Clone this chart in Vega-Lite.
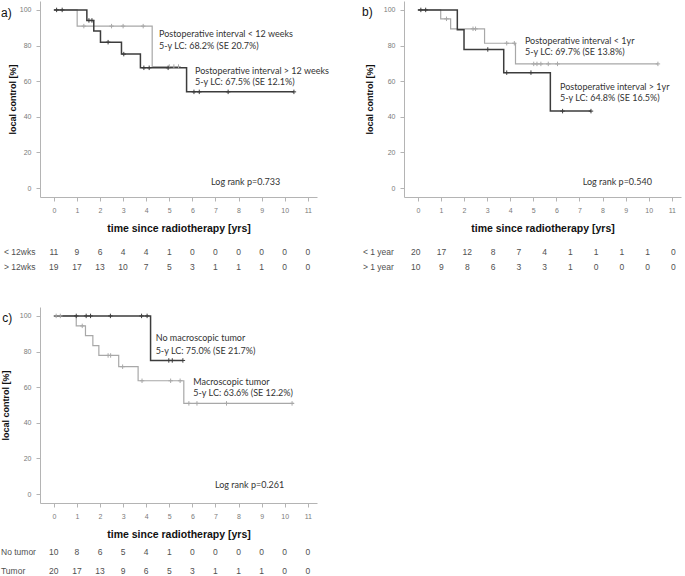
{
  "$schema": "https://vega.github.io/schema/vega-lite/v6.json",
  "background": "white",
  "padding": {"left": 0, "top": 1, "right": 2, "bottom": 2},
  "datasets": {
    "kmA": [
      {"g": "lt", "k": "step", "t": 0, "s": 100},
      {"g": "lt", "k": "step", "t": 1.01, "s": 90.9},
      {"g": "lt", "k": "step", "t": 4.26, "s": 68.2},
      {"g": "lt", "k": "step", "t": 5.4, "s": 68.2},
      {"g": "lt", "k": "cens", "t": 1.3, "s": 90.9},
      {"g": "lt", "k": "cens", "t": 2.5, "s": 90.9},
      {"g": "lt", "k": "cens", "t": 3.0, "s": 90.9},
      {"g": "lt", "k": "cens", "t": 3.87, "s": 90.9},
      {"g": "lt", "k": "cens", "t": 5.0, "s": 68.2},
      {"g": "lt", "k": "cens", "t": 5.2, "s": 68.2},
      {"g": "lt", "k": "cens", "t": 5.4, "s": 68.2},
      {"g": "gt", "k": "step", "t": 0, "s": 100},
      {"g": "gt", "k": "step", "t": 1.43, "s": 94.1},
      {"g": "gt", "k": "step", "t": 1.73, "s": 88.2},
      {"g": "gt", "k": "step", "t": 2.02, "s": 81.9},
      {"g": "gt", "k": "step", "t": 2.93, "s": 75.2},
      {"g": "gt", "k": "step", "t": 3.75, "s": 67.5},
      {"g": "gt", "k": "step", "t": 5.75, "s": 54.0},
      {"g": "gt", "k": "step", "t": 10.4, "s": 54.0},
      {"g": "gt", "k": "cens", "t": 0.12, "s": 100},
      {"g": "gt", "k": "cens", "t": 0.36, "s": 100},
      {"g": "gt", "k": "cens", "t": 1.52, "s": 94.1},
      {"g": "gt", "k": "cens", "t": 1.65, "s": 94.1},
      {"g": "gt", "k": "cens", "t": 2.35, "s": 81.9},
      {"g": "gt", "k": "cens", "t": 3.03, "s": 75.2},
      {"g": "gt", "k": "cens", "t": 3.9, "s": 67.5},
      {"g": "gt", "k": "cens", "t": 4.13, "s": 67.5},
      {"g": "gt", "k": "cens", "t": 4.95, "s": 67.5},
      {"g": "gt", "k": "cens", "t": 6.07, "s": 54.0},
      {"g": "gt", "k": "cens", "t": 6.3, "s": 54.0},
      {"g": "gt", "k": "cens", "t": 7.55, "s": 54.0},
      {"g": "gt", "k": "cens", "t": 10.4, "s": 54.0}
    ],
    "riskA": [
      {"g": "lt", "t": 0, "n": 11}, {"g": "lt", "t": 1, "n": 9}, {"g": "lt", "t": 2, "n": 6}, {"g": "lt", "t": 3, "n": 4},
      {"g": "lt", "t": 4, "n": 4}, {"g": "lt", "t": 5, "n": 1}, {"g": "lt", "t": 6, "n": 0}, {"g": "lt", "t": 7, "n": 0},
      {"g": "lt", "t": 8, "n": 0}, {"g": "lt", "t": 9, "n": 0}, {"g": "lt", "t": 10, "n": 0}, {"g": "lt", "t": 11, "n": 0},
      {"g": "gt", "t": 0, "n": 19}, {"g": "gt", "t": 1, "n": 17}, {"g": "gt", "t": 2, "n": 13}, {"g": "gt", "t": 3, "n": 10},
      {"g": "gt", "t": 4, "n": 7}, {"g": "gt", "t": 5, "n": 5}, {"g": "gt", "t": 6, "n": 3}, {"g": "gt", "t": 7, "n": 1},
      {"g": "gt", "t": 8, "n": 1}, {"g": "gt", "t": 9, "n": 1}, {"g": "gt", "t": 10, "n": 0}, {"g": "gt", "t": 11, "n": 0}
    ],
    "kmB": [
      {"g": "lt", "k": "step", "t": 0, "s": 100},
      {"g": "lt", "k": "step", "t": 0.99, "s": 95.0},
      {"g": "lt", "k": "step", "t": 1.42, "s": 89.4},
      {"g": "lt", "k": "step", "t": 2.89, "s": 81.3},
      {"g": "lt", "k": "step", "t": 4.23, "s": 69.7},
      {"g": "lt", "k": "step", "t": 10.4, "s": 69.7},
      {"g": "lt", "k": "cens", "t": 1.24, "s": 95.0},
      {"g": "lt", "k": "cens", "t": 2.39, "s": 89.4},
      {"g": "lt", "k": "cens", "t": 2.5, "s": 89.4},
      {"g": "lt", "k": "cens", "t": 3.85, "s": 81.3},
      {"g": "lt", "k": "cens", "t": 4.18, "s": 81.3},
      {"g": "lt", "k": "cens", "t": 5.02, "s": 69.7},
      {"g": "lt", "k": "cens", "t": 5.16, "s": 69.7},
      {"g": "lt", "k": "cens", "t": 5.33, "s": 69.7},
      {"g": "lt", "k": "cens", "t": 5.65, "s": 69.7},
      {"g": "lt", "k": "cens", "t": 6.05, "s": 69.7},
      {"g": "lt", "k": "cens", "t": 10.4, "s": 69.7},
      {"g": "gt", "k": "step", "t": 0, "s": 100},
      {"g": "gt", "k": "step", "t": 1.71, "s": 88.9},
      {"g": "gt", "k": "step", "t": 2.0, "s": 77.8},
      {"g": "gt", "k": "step", "t": 3.72, "s": 64.8},
      {"g": "gt", "k": "step", "t": 5.74, "s": 43.2},
      {"g": "gt", "k": "step", "t": 7.5, "s": 43.2},
      {"g": "gt", "k": "cens", "t": 0.13, "s": 100},
      {"g": "gt", "k": "cens", "t": 0.34, "s": 100},
      {"g": "gt", "k": "cens", "t": 3.03, "s": 77.8},
      {"g": "gt", "k": "cens", "t": 3.85, "s": 64.8},
      {"g": "gt", "k": "cens", "t": 4.9, "s": 64.8},
      {"g": "gt", "k": "cens", "t": 6.27, "s": 43.2},
      {"g": "gt", "k": "cens", "t": 7.5, "s": 43.2}
    ],
    "riskB": [
      {"g": "lt", "t": 0, "n": 20}, {"g": "lt", "t": 1, "n": 17}, {"g": "lt", "t": 2, "n": 12}, {"g": "lt", "t": 3, "n": 8},
      {"g": "lt", "t": 4, "n": 7}, {"g": "lt", "t": 5, "n": 4}, {"g": "lt", "t": 6, "n": 1}, {"g": "lt", "t": 7, "n": 1},
      {"g": "lt", "t": 8, "n": 1}, {"g": "lt", "t": 9, "n": 1}, {"g": "lt", "t": 10, "n": 0},
      {"g": "gt", "t": 0, "n": 10}, {"g": "gt", "t": 1, "n": 9}, {"g": "gt", "t": 2, "n": 8}, {"g": "gt", "t": 3, "n": 6},
      {"g": "gt", "t": 4, "n": 3}, {"g": "gt", "t": 5, "n": 3}, {"g": "gt", "t": 6, "n": 1}, {"g": "gt", "t": 7, "n": 0},
      {"g": "gt", "t": 8, "n": 0}, {"g": "gt", "t": 9, "n": 0}, {"g": "gt", "t": 10, "n": 0}
    ],
    "kmC": [
      {"g": "tu", "k": "step", "t": 0, "s": 100},
      {"g": "tu", "k": "step", "t": 0.97, "s": 94.4},
      {"g": "tu", "k": "step", "t": 1.37, "s": 88.9},
      {"g": "tu", "k": "step", "t": 1.69, "s": 83.3},
      {"g": "tu", "k": "step", "t": 1.95, "s": 77.8},
      {"g": "tu", "k": "step", "t": 2.81, "s": 71.5},
      {"g": "tu", "k": "step", "t": 3.65, "s": 63.6},
      {"g": "tu", "k": "step", "t": 5.63, "s": 50.9},
      {"g": "tu", "k": "step", "t": 10.4, "s": 50.9},
      {"g": "tu", "k": "cens", "t": 0.1, "s": 100},
      {"g": "tu", "k": "cens", "t": 0.28, "s": 100},
      {"g": "tu", "k": "cens", "t": 1.23, "s": 94.4},
      {"g": "tu", "k": "cens", "t": 2.35, "s": 77.8},
      {"g": "tu", "k": "cens", "t": 2.46, "s": 77.8},
      {"g": "tu", "k": "cens", "t": 2.98, "s": 71.5},
      {"g": "tu", "k": "cens", "t": 3.82, "s": 63.6},
      {"g": "tu", "k": "cens", "t": 5.06, "s": 63.6},
      {"g": "tu", "k": "cens", "t": 5.47, "s": 63.6},
      {"g": "tu", "k": "cens", "t": 5.85, "s": 50.9},
      {"g": "tu", "k": "cens", "t": 6.2, "s": 50.9},
      {"g": "tu", "k": "cens", "t": 7.48, "s": 50.9},
      {"g": "tu", "k": "cens", "t": 10.32, "s": 50.9},
      {"g": "no", "k": "step", "t": 0, "s": 100},
      {"g": "no", "k": "step", "t": 4.19, "s": 75.0},
      {"g": "no", "k": "step", "t": 5.59, "s": 75.0},
      {"g": "no", "k": "cens", "t": 0.97, "s": 100},
      {"g": "no", "k": "cens", "t": 1.4, "s": 100},
      {"g": "no", "k": "cens", "t": 1.59, "s": 100},
      {"g": "no", "k": "cens", "t": 2.45, "s": 100},
      {"g": "no", "k": "cens", "t": 3.8, "s": 100},
      {"g": "no", "k": "cens", "t": 4.04, "s": 100},
      {"g": "no", "k": "cens", "t": 4.98, "s": 75.0},
      {"g": "no", "k": "cens", "t": 5.13, "s": 75.0},
      {"g": "no", "k": "cens", "t": 5.59, "s": 75.0}
    ],
    "riskC": [
      {"g": "no", "t": 0, "n": 10}, {"g": "no", "t": 1, "n": 8}, {"g": "no", "t": 2, "n": 6}, {"g": "no", "t": 3, "n": 5},
      {"g": "no", "t": 4, "n": 4}, {"g": "no", "t": 5, "n": 1}, {"g": "no", "t": 6, "n": 0}, {"g": "no", "t": 7, "n": 0},
      {"g": "no", "t": 8, "n": 0}, {"g": "no", "t": 9, "n": 0}, {"g": "no", "t": 10, "n": 0}, {"g": "no", "t": 11, "n": 0},
      {"g": "tu", "t": 0, "n": 20}, {"g": "tu", "t": 1, "n": 17}, {"g": "tu", "t": 2, "n": 13}, {"g": "tu", "t": 3, "n": 9},
      {"g": "tu", "t": 4, "n": 6}, {"g": "tu", "t": 5, "n": 5}, {"g": "tu", "t": 6, "n": 3}, {"g": "tu", "t": 7, "n": 1},
      {"g": "tu", "t": 8, "n": 1}, {"g": "tu", "t": 9, "n": 1}, {"g": "tu", "t": 10, "n": 0}, {"g": "tu", "t": 11, "n": 0}
    ]
  },
  "columns": 2,
  "spacing": {"row": 110, "column": 87},
  "bounds": "flush",
  "concat": [
    {
      "width": 277, "height": 196,
      "layer": [
        {"data": {"name": "kmA"}, "transform": [{"filter": "datum.g === 'lt' && datum.k === 'step'"}], "mark": {"type": "line", "interpolate": "step-after", "color": "#a8a8a8", "strokeWidth": 1.2},
         "encoding": {"x": {"field": "t", "type": "quantitative", "title": "time since radiotherapy [yrs]", "scale": {"domain": [-0.6, 11.4], "nice": false, "zero": false}},
                      "y": {"field": "s", "type": "quantitative", "title": "local control [%]", "scale": {"domain": [-5, 105], "nice": false, "zero": false}, "axis": {"titlePadding": 2}}}},
        {"data": {"name": "kmA"}, "transform": [{"filter": "datum.g === 'gt' && datum.k === 'step'"}], "mark": {"type": "line", "interpolate": "step-after", "color": "#3c3c3c", "strokeWidth": 1.5},
         "encoding": {"x": {"field": "t", "type": "quantitative", "title": "time since radiotherapy [yrs]"}, "y": {"field": "s", "type": "quantitative", "title": "local control [%]"}}},
        {"data": {"name": "kmA"}, "transform": [{"filter": "datum.g === 'lt' && datum.k === 'cens'"}], "mark": {"type": "point", "shape": "M-1,0L1,0M0,-1L0,1", "size": 20, "filled": false, "color": "#a8a8a8", "strokeWidth": 1, "opacity": 1},
         "encoding": {"x": {"field": "t", "type": "quantitative", "title": "time since radiotherapy [yrs]"}, "y": {"field": "s", "type": "quantitative", "title": "local control [%]"}}},
        {"data": {"name": "kmA"}, "transform": [{"filter": "datum.g === 'gt' && datum.k === 'cens'"}], "mark": {"type": "point", "shape": "M-1,0L1,0M0,-1L0,1", "size": 20, "filled": false, "color": "#3c3c3c", "strokeWidth": 1, "opacity": 1},
         "encoding": {"x": {"field": "t", "type": "quantitative", "title": "time since radiotherapy [yrs]"}, "y": {"field": "s", "type": "quantitative", "title": "local control [%]"}}},
        {"data": {"name": "riskA"}, "transform": [{"filter": "datum.g === 'lt'"}], "mark": {"type": "text", "fontSize": 8.5, "color": "#505050", "align": "center", "baseline": "middle"}, "encoding": {"x": {"field": "t", "type": "quantitative", "title": "time since radiotherapy [yrs]"}, "y": {"datum": -35.9}, "text": {"field": "n"}}},
        {"data": {"name": "riskA"}, "transform": [{"filter": "datum.g === 'gt'"}], "mark": {"type": "text", "fontSize": 8.5, "color": "#505050", "align": "center", "baseline": "middle"}, "encoding": {"x": {"field": "t", "type": "quantitative", "title": "time since radiotherapy [yrs]"}, "y": {"datum": -44.3}, "text": {"field": "n"}}},
        {"data": {"values": [{}]}, "mark": {"type": "text", "text": "< 12wks", "fontSize": 8.5, "color": "#505050", "align": "left", "baseline": "middle"}, "encoding": {"x": {"datum": -2.16}, "y": {"datum": -35.9}}},
        {"data": {"values": [{}]}, "mark": {"type": "text", "text": "> 12wks", "fontSize": 8.5, "color": "#505050", "align": "left", "baseline": "middle"}, "encoding": {"x": {"datum": -2.16}, "y": {"datum": -44.3}}},
        {"data": {"values": [{}]}, "mark": {"type": "text", "text": "a)", "fontSize": 12, "color": "#111111", "align": "left", "baseline": "middle"}, "encoding": {"x": {"datum": -2.29}, "y": {"datum": 98.3}}},
        {"data": {"values": [{}]}, "mark": {"type": "text", "text": "Postoperative interval < 12 weeks", "font": "Lato", "fontSize": 9, "color": "#333333", "align": "left", "baseline": "middle"}, "encoding": {"x": {"datum": 4.555}, "y": {"datum": 86.5}}},
        {"data": {"values": [{}]}, "mark": {"type": "text", "text": "5-y LC: 68.2% (SE 20.7%)", "font": "Lato", "fontSize": 9, "color": "#333333", "align": "left", "baseline": "middle"}, "encoding": {"x": {"datum": 4.555}, "y": {"datum": 79.7}}},
        {"data": {"values": [{}]}, "mark": {"type": "text", "text": "Postoperative interval > 12 weeks", "font": "Lato", "fontSize": 9, "color": "#333333", "align": "left", "baseline": "middle"}, "encoding": {"x": {"datum": 6.115}, "y": {"datum": 65.7}}},
        {"data": {"values": [{}]}, "mark": {"type": "text", "text": "5-y LC: 67.5% (SE 12.1%)", "font": "Lato", "fontSize": 9, "color": "#333333", "align": "left", "baseline": "middle"}, "encoding": {"x": {"datum": 6.115}, "y": {"datum": 59.5}}},
        {"data": {"values": [{}]}, "mark": {"type": "text", "text": "Log rank p=0.733", "font": "Lato", "fontSize": 9, "color": "#333333", "align": "left", "baseline": "middle"}, "encoding": {"x": {"datum": 6.81}, "y": {"datum": 3.4}}}
      ]
    },
    {
      "width": 277, "height": 196,
      "resolve": {"scale": {"x": "independent"}, "axis": {"x": "independent"}},
      "layer": [
        {
          "layer": [
            {"data": {"name": "kmB"}, "transform": [{"filter": "datum.g === 'lt' && datum.k === 'step'"}], "mark": {"type": "line", "interpolate": "step-after", "color": "#a8a8a8", "strokeWidth": 1.2},
             "encoding": {"x": {"field": "t", "type": "quantitative", "title": "time since radiotherapy [yrs]", "scale": {"domain": [-0.6, 11.4], "nice": false, "zero": false}},
                          "y": {"field": "s", "type": "quantitative", "title": "local control [%]", "scale": {"domain": [-5, 105], "nice": false, "zero": false}, "axis": {"titlePadding": 9}}}},
            {"data": {"name": "kmB"}, "transform": [{"filter": "datum.g === 'gt' && datum.k === 'step'"}], "mark": {"type": "line", "interpolate": "step-after", "color": "#3c3c3c", "strokeWidth": 1.5},
             "encoding": {"x": {"field": "t", "type": "quantitative", "title": "time since radiotherapy [yrs]"}, "y": {"field": "s", "type": "quantitative", "title": "local control [%]"}}},
            {"data": {"name": "kmB"}, "transform": [{"filter": "datum.g === 'lt' && datum.k === 'cens'"}], "mark": {"type": "point", "shape": "M-1,0L1,0M0,-1L0,1", "size": 20, "filled": false, "color": "#a8a8a8", "strokeWidth": 1, "opacity": 1},
             "encoding": {"x": {"field": "t", "type": "quantitative", "title": "time since radiotherapy [yrs]"}, "y": {"field": "s", "type": "quantitative", "title": "local control [%]"}}},
            {"data": {"name": "kmB"}, "transform": [{"filter": "datum.g === 'gt' && datum.k === 'cens'"}], "mark": {"type": "point", "shape": "M-1,0L1,0M0,-1L0,1", "size": 20, "filled": false, "color": "#3c3c3c", "strokeWidth": 1, "opacity": 1},
             "encoding": {"x": {"field": "t", "type": "quantitative", "title": "time since radiotherapy [yrs]"}, "y": {"field": "s", "type": "quantitative", "title": "local control [%]"}}},
            {"data": {"values": [{}]}, "mark": {"type": "text", "text": "< 1 year", "fontSize": 8.5, "color": "#505050", "align": "left", "baseline": "middle"}, "encoding": {"x": {"datum": -2.38}, "y": {"datum": -35.9}}},
            {"data": {"values": [{}]}, "mark": {"type": "text", "text": "> 1 year", "fontSize": 8.5, "color": "#505050", "align": "left", "baseline": "middle"}, "encoding": {"x": {"datum": -2.38}, "y": {"datum": -44.3}}},
            {"data": {"values": [{}]}, "mark": {"type": "text", "text": "b)", "fontSize": 12, "color": "#111111", "align": "left", "baseline": "middle"}, "encoding": {"x": {"datum": -2.42}, "y": {"datum": 98.8}}},
            {"data": {"values": [{}]}, "mark": {"type": "text", "text": "Postoperative interval < 1yr", "font": "Lato", "fontSize": 9, "color": "#333333", "align": "left", "baseline": "middle"}, "encoding": {"x": {"datum": 4.64}, "y": {"datum": 82.4}}},
            {"data": {"values": [{}]}, "mark": {"type": "text", "text": "5-y LC: 69.7% (SE 13.8%)", "font": "Lato", "fontSize": 9, "color": "#333333", "align": "left", "baseline": "middle"}, "encoding": {"x": {"datum": 4.64}, "y": {"datum": 76.2}}},
            {"data": {"values": [{}]}, "mark": {"type": "text", "text": "Postoperative interval > 1yr", "font": "Lato", "fontSize": 9, "color": "#333333", "align": "left", "baseline": "middle"}, "encoding": {"x": {"datum": 6.158}, "y": {"datum": 56.6}}},
            {"data": {"values": [{}]}, "mark": {"type": "text", "text": "5-y LC: 64.8% (SE 16.5%)", "font": "Lato", "fontSize": 9, "color": "#333333", "align": "left", "baseline": "middle"}, "encoding": {"x": {"datum": 6.158}, "y": {"datum": 50.4}}},
            {"data": {"values": [{}]}, "mark": {"type": "text", "text": "Log rank p=0.540", "font": "Lato", "fontSize": 9, "color": "#333333", "align": "left", "baseline": "middle"}, "encoding": {"x": {"datum": 7.14}, "y": {"datum": 3.6}}}
          ]
        },
        {"data": {"name": "riskB"}, "transform": [{"filter": "datum.g === 'lt'"}], "mark": {"type": "text", "fontSize": 8.5, "color": "#505050", "align": "center", "baseline": "middle"}, "encoding": {"x": {"field": "t", "type": "quantitative", "scale": {"domain": [-0.454, 10.295], "nice": false, "zero": false}, "axis": null}, "y": {"datum": -35.9}, "text": {"field": "n"}}},
        {"data": {"name": "riskB"}, "transform": [{"filter": "datum.g === 'gt'"}], "mark": {"type": "text", "fontSize": 8.5, "color": "#505050", "align": "center", "baseline": "middle"}, "encoding": {"x": {"field": "t", "type": "quantitative", "scale": {"domain": [-0.454, 10.295], "nice": false, "zero": false}, "axis": null}, "y": {"datum": -44.3}, "text": {"field": "n"}}}
      ]
    },
    {
      "width": 277, "height": 196,
      "layer": [
        {"data": {"name": "kmC"}, "transform": [{"filter": "datum.g === 'tu' && datum.k === 'step'"}], "mark": {"type": "line", "interpolate": "step-after", "color": "#a8a8a8", "strokeWidth": 1.2},
         "encoding": {"x": {"field": "t", "type": "quantitative", "title": "time since radiotherapy [yrs]", "scale": {"domain": [-0.6, 11.4], "nice": false, "zero": false}},
                      "y": {"field": "s", "type": "quantitative", "title": "local control [%]", "scale": {"domain": [-5, 105], "nice": false, "zero": false}, "axis": {"titlePadding": 9}}}},
        {"data": {"name": "kmC"}, "transform": [{"filter": "datum.g === 'no' && datum.k === 'step'"}], "mark": {"type": "line", "interpolate": "step-after", "color": "#3c3c3c", "strokeWidth": 1.5},
         "encoding": {"x": {"field": "t", "type": "quantitative", "title": "time since radiotherapy [yrs]"}, "y": {"field": "s", "type": "quantitative", "title": "local control [%]"}}},
        {"data": {"name": "kmC"}, "transform": [{"filter": "datum.g === 'tu' && datum.k === 'cens'"}], "mark": {"type": "point", "shape": "M-1,0L1,0M0,-1L0,1", "size": 20, "filled": false, "color": "#a8a8a8", "strokeWidth": 1, "opacity": 1},
         "encoding": {"x": {"field": "t", "type": "quantitative", "title": "time since radiotherapy [yrs]"}, "y": {"field": "s", "type": "quantitative", "title": "local control [%]"}}},
        {"data": {"name": "kmC"}, "transform": [{"filter": "datum.g === 'no' && datum.k === 'cens'"}], "mark": {"type": "point", "shape": "M-1,0L1,0M0,-1L0,1", "size": 20, "filled": false, "color": "#3c3c3c", "strokeWidth": 1, "opacity": 1},
         "encoding": {"x": {"field": "t", "type": "quantitative", "title": "time since radiotherapy [yrs]"}, "y": {"field": "s", "type": "quantitative", "title": "local control [%]"}}},
        {"data": {"name": "riskC"}, "transform": [{"filter": "datum.g === 'no'"}], "mark": {"type": "text", "fontSize": 8.5, "color": "#505050", "align": "center", "baseline": "middle"}, "encoding": {"x": {"field": "t", "type": "quantitative", "title": "time since radiotherapy [yrs]"}, "y": {"datum": -32.5}, "text": {"field": "n"}}},
        {"data": {"name": "riskC"}, "transform": [{"filter": "datum.g === 'tu'"}], "mark": {"type": "text", "fontSize": 8.5, "color": "#505050", "align": "center", "baseline": "middle"}, "encoding": {"x": {"field": "t", "type": "quantitative", "title": "time since radiotherapy [yrs]"}, "y": {"datum": -43.2}, "text": {"field": "n"}}},
        {"data": {"values": [{}]}, "mark": {"type": "text", "text": "No tumor", "fontSize": 8.5, "color": "#505050", "align": "left", "baseline": "middle"}, "encoding": {"x": {"datum": -2.29}, "y": {"datum": -32.5}}},
        {"data": {"values": [{}]}, "mark": {"type": "text", "text": "Tumor", "fontSize": 8.5, "color": "#505050", "align": "left", "baseline": "middle"}, "encoding": {"x": {"datum": -2.29}, "y": {"datum": -43.2}}},
        {"data": {"values": [{}]}, "mark": {"type": "text", "text": "c)", "fontSize": 12, "color": "#111111", "align": "left", "baseline": "middle"}, "encoding": {"x": {"datum": -2.23}, "y": {"datum": 99.1}}},
        {"data": {"values": [{}]}, "mark": {"type": "text", "text": "No macroscopic tumor", "font": "Lato", "fontSize": 9, "color": "#333333", "align": "left", "baseline": "middle"}, "encoding": {"x": {"datum": 4.41}, "y": {"datum": 87.4}}},
        {"data": {"values": [{}]}, "mark": {"type": "text", "text": "5-y LC: 75.0% (SE 21.7%)", "font": "Lato", "fontSize": 9, "color": "#333333", "align": "left", "baseline": "middle"}, "encoding": {"x": {"datum": 4.41}, "y": {"datum": 80.5}}},
        {"data": {"values": [{}]}, "mark": {"type": "text", "text": "Macroscopic tumor", "font": "Lato", "fontSize": 9, "color": "#333333", "align": "left", "baseline": "middle"}, "encoding": {"x": {"datum": 6.04}, "y": {"datum": 63.1}}},
        {"data": {"values": [{}]}, "mark": {"type": "text", "text": "5-y LC: 63.6% (SE 12.2%)", "font": "Lato", "fontSize": 9, "color": "#333333", "align": "left", "baseline": "middle"}, "encoding": {"x": {"datum": 6.04}, "y": {"datum": 56.7}}},
        {"data": {"values": [{}]}, "mark": {"type": "text", "text": "Log rank p=0.261", "font": "Lato", "fontSize": 9, "color": "#333333", "align": "left", "baseline": "middle"}, "encoding": {"x": {"datum": 6.98}, "y": {"datum": 5.1}}}
      ]
    }
  ],
  "config": {
    "view": {"stroke": null},
    "text": {"font": "Liberation Sans"},
    "axis": {"domainColor": "#b4b4b4", "tickColor": "#b4b4b4", "labelColor": "#7a7a7a", "labelFont": "Liberation Sans", "labelFontSize": 7, "titleFont": "Liberation Sans", "titleFontWeight": "bold", "titleColor": "#111111", "grid": false, "tickSize": 4, "labelPadding": 5, "labelOverlap": false},
    "axisX": {"titleFontSize": 10.5, "titlePadding": 10, "tickCount": 12},
    "axisY": {"titleFontSize": 9, "labelPadding": 5, "tickCount": 6}
  }
}
